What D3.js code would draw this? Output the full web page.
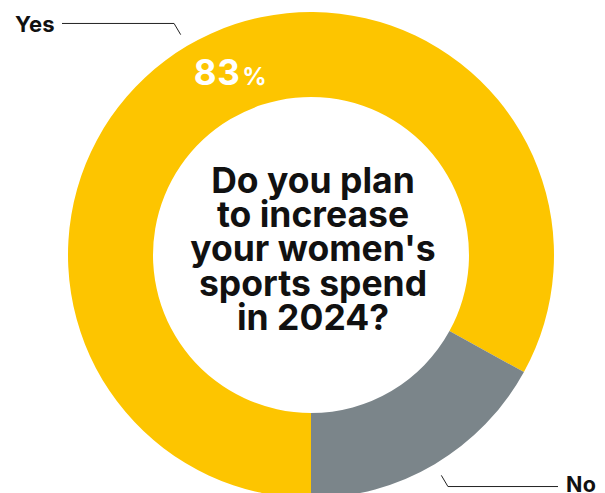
<!DOCTYPE html>
<html>
<head>
<meta charset="utf-8">
<script src="https://cdn.jsdelivr.net/npm/d3@7"></script>
<style>
  html, body { margin: 0; padding: 0; background: #ffffff; }
  svg { display: block; }
  text { font-family: Inter, "Noto Sans", sans-serif; font-weight: 700; }
</style>
</head>
<body>
<svg id="chart" width="605" height="493"></svg>
<script>
// Survey answers and their shares (percent)
const answers = ["Yes", "No"];
const shares = [83, 17];
const colors = ["#FDC500", "#7B858A"];
const question = ["Do you plan", "to increase", "your women's", "sports spend", "in 2024?"];

const W = 605, H = 493;
const cx = 311, cy = 255;
const outerR = 243, innerR = 158;

const svg = d3.select("#chart");
const g = svg.append("g").attr("transform", `translate(${cx},${cy})`);

// "Yes" begins at the bottom and runs clockwise
const pie = d3.pie().sort(null).value(d => d.value)
  .startAngle(Math.PI).endAngle(3 * Math.PI);
const data = answers.map((a, i) => ({ answer: a, value: shares[i], color: colors[i] }));
const arcs = pie(data);

const arc = d3.arc().innerRadius(innerR).outerRadius(outerR);

g.selectAll("path.slice")
  .data(arcs)
  .join("path")
  .attr("class", "slice")
  .attr("d", arc)
  .attr("fill", d => d.data.color);

// Leader lines and answer labels
const midAngle = d => (d.startAngle + d.endAngle) / 2;
const polar = (a, r) => [Math.sin(a) * r, -Math.cos(a) * r];

arcs.forEach(d => {
  const a = midAngle(d);
  const p0 = polar(a, outerR + 13);
  const p1 = polar(a, outerR + 26);
  const left = Math.sin(a) < 0;
  const xEnd = left ? -cx + 62 : W - cx - 47;
  g.append("polyline")
    .attr("points", [p0, p1, [xEnd, p1[1]]].map(p => p.join(",")).join(" "))
    .attr("fill", "none")
    .attr("stroke", "#222")
    .attr("stroke-width", 1);
  g.append("text")
    .attr("x", left ? xEnd - 7 : xEnd + 8)
    .attr("y", p1[1] + (left ? 8.5 : 5.5))
    .attr("text-anchor", left ? "end" : "start")
    .attr("font-size", left ? 22 : 21.5)
    .attr("letter-spacing", 0.3)
    .attr("fill", "#111")
    .text(d.data.answer);
});

// Share label on the "Yes" segment
const yes = arcs[0];
const labelPos = polar(midAngle(yes) + 0.115, (outerR + innerR) / 2 - 2);
const pct = g.append("text")
  .attr("x", labelPos[0])
  .attr("y", labelPos[1] + 11)
  .attr("text-anchor", "middle")
  .attr("fill", "#ffffff")
  .attr("font-weight", 800);
pct.append("tspan").attr("font-size", 35).attr("letter-spacing", 0.5).text(yes.data.value);
pct.append("tspan").attr("font-size", 24).attr("dx", 2).text("%");

// Question in the centre
const q = g.append("text")
  .attr("text-anchor", "middle")
  .attr("fill", "#111")
  .attr("font-size", 35.5);
question.forEach((line, i) => {
  q.append("tspan")
    .attr("x", 2)
    .attr("y", -62 + i * 34.2)
    .text(line);
});
</script>
</body>
</html>
